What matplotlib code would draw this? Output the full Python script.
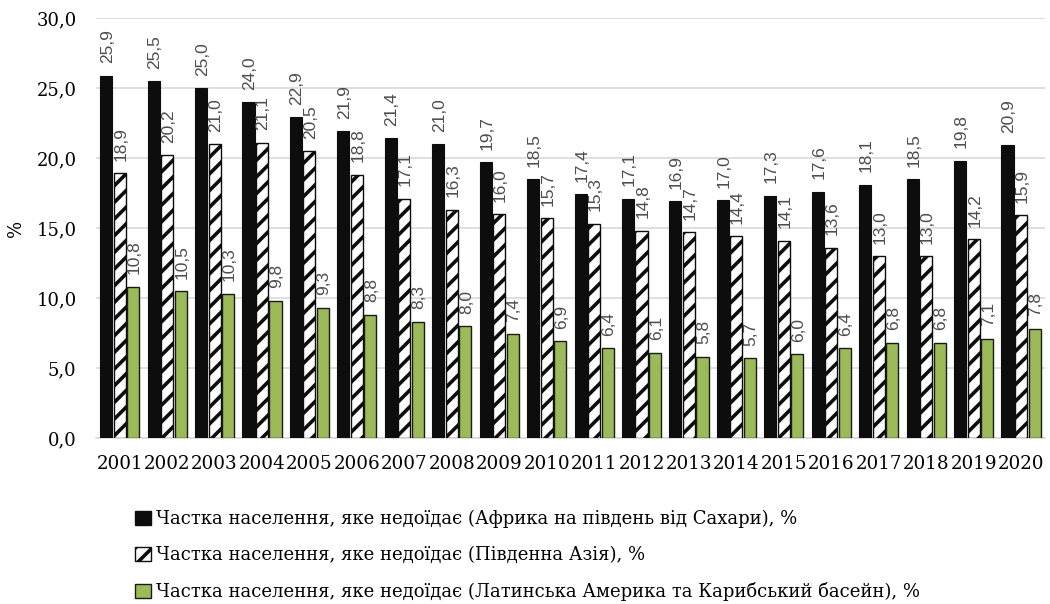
import matplotlib
matplotlib.use("Agg")
import matplotlib.pyplot as plt
import numpy as np
from matplotlib.patches import Patch

years = [str(y) for y in range(2001, 2021)]
africa = [25.9, 25.5, 25.0, 24.0, 22.9, 21.9, 21.4, 21.0, 19.7, 18.5, 17.4, 17.1, 16.9, 17.0, 17.3, 17.6, 18.1, 18.5, 19.8, 20.9]
south_asia = [18.9, 20.2, 21.0, 21.1, 20.5, 18.8, 17.1, 16.3, 16.0, 15.7, 15.3, 14.8, 14.7, 14.4, 14.1, 13.6, 13.0, 13.0, 14.2, 15.9]
latam = [10.8, 10.5, 10.3, 9.8, 9.3, 8.8, 8.3, 8.0, 7.4, 6.9, 6.4, 6.1, 5.8, 5.7, 6.0, 6.4, 6.8, 6.8, 7.1, 7.8]
labels = [
    "Частка населення, яке недоїдає (Африка на південь від Сахари), %",
    "Частка населення, яке недоїдає (Південна Азія), %",
    "Частка населення, яке недоїдає (Латинська Америка та Карибський басейн), %",
]

plt.rcParams['hatch.linewidth'] = 2.6
serif = ['DejaVu Serif']
fig = plt.figure(figsize=(10.5, 6.04), dpi=100)
ax = fig.add_axes([0.0914, 0.2748, 0.9036, 0.6952])

x = np.arange(len(years))
w = 0.255
gap = 0.03
offs = [-(w + gap), 0, (w + gap)]
green = '#9BBB59'
b1 = ax.bar(x + offs[0], africa, w, color='#0d0d0d', edgecolor='#0d0d0d', linewidth=0.8, zorder=3)
b2 = ax.bar(x + offs[1], south_asia, w, color='white', edgecolor='#0d0d0d', hatch='//', linewidth=1.0, zorder=3)
b3 = ax.bar(x + offs[2], latam, w, color=green, edgecolor='#1a1a1a', linewidth=1.0, zorder=3)

for bars, vals in ((b1, africa), (b2, south_asia), (b3, latam)):
    for r, v in zip(bars, vals):
        ax.annotate(f"{v:.1f}".replace('.', ','), (r.get_x() + r.get_width() / 2, v),
                    xytext=(0.8, 9), textcoords='offset points', rotation=90,
                    ha='center', va='bottom', fontsize=12.5, color='#4d4d4d',
                    family='Liberation Sans', zorder=4)

ax.set_xlim(-0.5, len(years) - 0.5)
ax.set_ylim(0, 30)
ax.set_yticks(np.arange(0, 30.1, 5))
ax.set_yticklabels([f"{t:.1f}".replace('.', ',') for t in np.arange(0, 30.1, 5)],
                   family=serif, fontsize=13)
ax.set_xticks(x)
ax.set_xticklabels(years, family=serif, fontsize=13.2)
ax.tick_params(axis='y', length=0, pad=14)
ax.tick_params(axis='x', length=0, pad=12)
ax.grid(axis='y', color='#d9d9d9', linewidth=1.2, zorder=0)
for s in ['top', 'right', 'left']:
    ax.spines[s].set_visible(False)
ax.spines['bottom'].set_color('#d9d9d9')
ax.spines['bottom'].set_linewidth(1.2)
ax.set_ylabel('%', family=serif, fontsize=13, labelpad=8)

handles = [
    Patch(facecolor='#0d0d0d', edgecolor='#0d0d0d'),
    Patch(facecolor='white', edgecolor='#0d0d0d', hatch='//'),
    Patch(facecolor=green, edgecolor='#1a1a1a'),
]
fig.legend(handles, labels, loc='upper left', bbox_to_anchor=(0.122, 0.168),
           frameon=False, ncol=1, prop={'family': serif, 'size': 13},
           handlelength=0.85, handleheight=0.85, handletextpad=0.3,
           labelspacing=1.0, borderaxespad=0)

fig.savefig('out.png', dpi=100)
